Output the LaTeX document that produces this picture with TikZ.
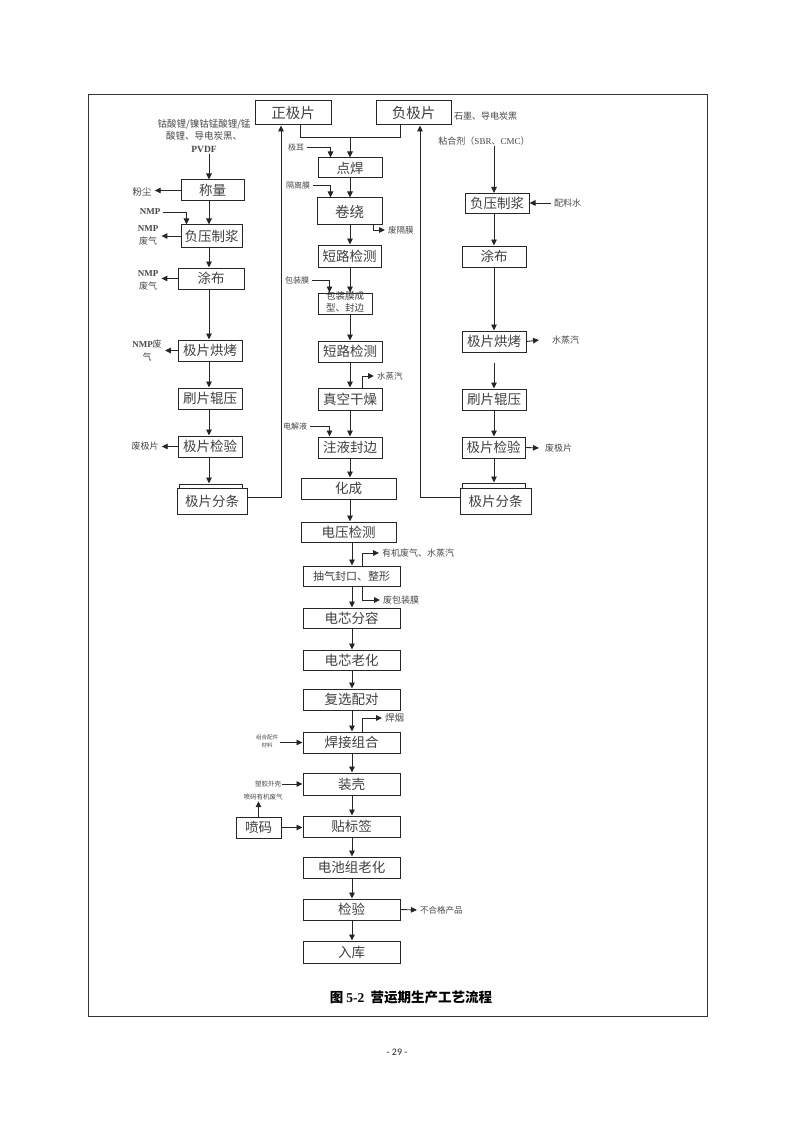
\documentclass[tikz,border=0pt]{standalone}
\usepackage{fontspec}
\setmainfont{Noto Sans CJK SC}
\newfontfamily\tnr{Liberation Serif}
\newfontfamily\pagefont{Carlito}
\usetikzlibrary{arrows.meta,calc}
\newcommand\tb[1]{{\tnr\bfseries #1}}
\newcommand\fsz[2]{\fontsize{#1}{#2}\selectfont}
\begin{document}
\begin{tikzpicture}[x=1pt,y=-1pt,
  box/.style={draw=black!85, line width=1pt, fill=white, inner sep=0pt, text=black!75, font=\fsz{13.5}{15}},
  arr/.style={draw=black!85, line width=0.9pt, -{Triangle[length=6pt,width=5.5pt]}},
  ln/.style={draw=black!85, line width=0.9pt},
  lab/.style={text=black!72, inner xsep=3pt, inner ysep=1pt, font=\fsz{8.5}{11}, align=center},
  frame/.style={draw=black!80, line width=1pt}]
\useasboundingbox (0,0) rectangle (794,1123);
\draw[frame] (88,95) rectangle (707,1016);

% reference x positions of vertical connectors
\coordinate (xL) at (209,0);
\coordinate (xM) at (350,0);
\coordinate (xN) at (352,0);
\coordinate (xR) at (494,0);
\coordinate (jL) at (300,137);
\coordinate (jM) at (350,137);
\coordinate (jR) at (400,137);
\coordinate (rL) at (281,497);
\coordinate (rR) at (420,497);

% ---------- top boxes
\node[box, font=\fsz{14.5}{16}, minimum width=76, minimum height=24] (zjp) at (293,113) {正极片};
\node[box, font=\fsz{14.5}{16}, minimum width=75, minimum height=24] (fjp) at (413.5,113) {负极片};

% ---------- left column
\node[box, minimum width=63, minimum height=21] (L1) at (212.5,190.5) {称量};
\node[box, minimum width=61, minimum height=22] (L2) at (211.5,236) {负压制浆};
\node[box, minimum width=66, minimum height=21] (L3) at (211,278.5) {涂布};
\node[box, minimum width=64, minimum height=21] (L4) at (210,350.5) {极片烘烤};
\node[box, minimum width=64, minimum height=21] (L5) at (210,398.5) {刷片辊压};
\node[box, minimum width=64, minimum height=21] (L6) at (210,446.5) {极片检验};
\node[box, minimum width=63, minimum height=8] (L7b) at (210.5,488) {};
\node[box, minimum width=70, minimum height=26] (L7) at (212,501) {极片分条};

% ---------- middle column
\node[box, minimum width=64, minimum height=20] (M1) at (350,168) {点焊};
\node[box, font=\fsz{14.5}{16}, minimum width=65, minimum height=27] (M2) at (349.5,211.5) {卷绕};
\node[box, minimum width=63, minimum height=22] (M3) at (349.5,256) {短路检测};
\node[box, minimum width=54, minimum height=21] (M4) at (345,303.5) {};
\node[text=black!75, font=\fsz{9.5}{12}, align=center, inner sep=0pt] (M4t) at (345,301.5) {包装膜成\\型、封边};
\node[box, minimum width=64, minimum height=21] (M5) at (350,351.5) {短路检测};
\node[box, minimum width=64, minimum height=22] (M6) at (350,399) {真空干燥};
\node[box, minimum width=64, minimum height=21] (M7) at (350,447.5) {注液封边};
\node[box, minimum width=95, minimum height=21] (M8) at (348.5,488.5) {化成};
\node[box, minimum width=95, minimum height=20] (M9) at (348.5,532) {电压检测};
\node[box, font=\fsz{11}{13}, minimum width=97, minimum height=20] (M10) at (351.5,576) {抽气封口、整形};
\node[box, minimum width=97, minimum height=20] (M11) at (351.5,618) {电芯分容};
\node[box, minimum width=97, minimum height=20] (M12) at (351.5,660) {电芯老化};
\node[box, minimum width=97, minimum height=21] (M13) at (351.5,699.5) {复选配对};
\node[box, minimum width=97, minimum height=21] (M14) at (351.5,742.5) {焊接组合};
\node[box, minimum width=97, minimum height=22] (M15) at (351.5,784) {装壳};
\node[box, minimum width=97, minimum height=21] (M16) at (351.5,826.5) {贴标签};
\node[box, minimum width=97, minimum height=21] (M17) at (351.5,867.5) {电池组老化};
\node[box, minimum width=97, minimum height=21] (M18) at (351.5,909.5) {检验};
\node[box, minimum width=97, minimum height=22] (M19) at (351.5,952) {入库};
\node[box, minimum width=45, minimum height=21] (pm) at (258.5,827.5) {喷码};

% ---------- right column
\node[box, minimum width=64, minimum height=20] (R1) at (497,203.5) {负压制浆};
\node[box, minimum width=64, minimum height=21] (R2) at (494,256.5) {涂布};
\node[box, minimum width=64, minimum height=21] (R3) at (494,341.5) {极片烘烤};
\node[box, minimum width=64, minimum height=21] (R4) at (494,399.5) {刷片辊压};
\node[box, minimum width=63, minimum height=21] (R5) at (493.5,447.5) {极片检验};
\node[box, minimum width=63, minimum height=8] (R6b) at (493.5,487) {};
\node[box, minimum width=71, minimum height=26] (R6) at (495.5,501) {极片分条};

% ---------- labels
\node[lab, font=\fsz{9.5}{12.5}] (pL) at (204,136) {钴酸锂/镍钴锰酸锂/锰\\酸锂、导电炭黑、\\\tb{PVDF}};
\node[lab, font=\fsz{9.5}{11}] (fc) at (142,192) {粉尘};
\node[lab, font=\fsz{9}{11}] (nmp) at (150,212) {\tb{NMP}};
\node[lab, font=\fsz{9}{13}] (n2) at (148,235) {\tb{NMP}\\废气};
\node[lab, font=\fsz{9}{13}] (n3) at (148,280) {\tb{NMP}\\废气};
\node[lab, font=\fsz{9}{13}] (n4) at (147,351) {\tb{NMP}废\\气};
\node[lab, font=\fsz{9}{11}] (n5) at (145,446) {废极片};
\node[lab, font=\fsz{8}{10}] (je) at (296,147) {极耳};
\node[lab, font=\fsz{8}{10}] (glm) at (298,185) {隔离膜};
\node[lab, font=\fsz{8}{10}] (bzm) at (297,280) {包装膜};
\node[lab, font=\fsz{8.5}{10}, anchor=west] (fgm) at (385,230) {废隔膜};
\node[lab, font=\fsz{8.5}{10}, anchor=west] (sz1) at (374,376) {水蒸汽};
\node[lab, font=\fsz{8}{10}] (djy) at (295,426) {电解液};
\node[lab, font=\fsz{9}{10}, anchor=west] (yj) at (379,553) {有机废气、水蒸汽};
\node[lab, font=\fsz{9}{10}, anchor=west] (fbzm) at (380,600) {废包装膜};
\node[lab, font=\fsz{9.5}{10}, anchor=west] (hy) at (382,718) {焊烟};
\node[lab, font=\fsz{5.5}{8}, inner xsep=2pt] (zh) at (267,741) {组合配件\\材料};
\node[lab, font=\fsz{6.5}{8}, inner xsep=1pt] (sj) at (268,784) {塑胶外壳};
\node[lab, font=\fsz{6.5}{8}] (pmq) at (263,797) {喷码有机废气};
\node[lab, font=\fsz{8.5}{10}, anchor=west] (bhg) at (417,910) {不合格产品};
\node[lab, font=\fsz{9}{10}, anchor=west] (smt) at (451,116) {石墨、导电炭黑};
\node[lab, font=\fsz{9}{10}] (nhj) at (484,141) {粘合剂（{\tnr SBR}、{\tnr CMC}）};
\node[lab, font=\fsz{9}{10}, anchor=west] (plS) at (551,203) {配料水};
\node[lab, font=\fsz{9}{10}, anchor=west] (szR) at (549,340) {水蒸汽};
\node[lab, font=\fsz{9}{10}, anchor=west] (fjR) at (542,448) {废极片};

% ---------- caption and page number
\node[font=\fsz{13.5}{15}\bfseries, text=black] (cap) at (411,997) {图 {\tnr\bfseries 5-2}\ \ 营运期生产工艺流程};
\node[font=\pagefont\fsz{10}{12}, text=black!85] (pg) at (397,1052) {- 29 -};

% ---------- connectors: top
\draw[ln] (zjp.south -| jL) -- (jL) -- (jR) -- (fjp.south -| jR);
\draw[arr] (jM) -- (M1.north -| jM);
\draw[arr] (L7.east |- rL) -- (rL) -- (zjp.south -| rL);
\draw[arr] (R6.west |- rR) -- (rR) -- (fjp.south -| rR);

% left column
\draw[arr] (pL.south -| xL) -- (L1.north -| xL);
\draw[arr] (L1.south -| xL) -- (L2.north -| xL);
\draw[arr] (L2.south -| xL) -- (L3.north -| xL);
\draw[arr] (L3.south -| xL) -- (L4.north -| xL);
\draw[arr] (L4.south -| xL) -- (L5.north -| xL);
\draw[arr] (L5.south -| xL) -- (L6.north -| xL);
\draw[arr] (L6.south -| xL) -- (L7b.north -| xL);
\draw[arr] (L1.west) -- (L1.west -| fc.east);
\draw[arr] (nmp.east) -| ($(L2.north west)+(6,0)$);
\draw[arr] (L2.west) -- (L2.west -| n2.east);
\draw[arr] (L3.west) -- (L3.west -| n3.east);
\draw[arr] (L4.west) -- (L4.west -| n4.east);
\draw[arr] (L6.west) -- (L6.west -| n5.east);

% middle column
\draw[arr] (M1.south -| xM) -- (M2.north -| xM);
\draw[arr] (M2.south -| xM) -- (M3.north -| xM);
\draw[arr] (M3.south -| xM) -- (M4.north -| xM);
\draw[arr] (M4.south -| xM) -- (M5.north -| xM);
\draw[arr] (M5.south -| xM) -- (M6.north -| xM);
\draw[arr] (M6.south -| xM) -- (M7.north -| xM);
\draw[arr] (M7.south -| xM) -- (M8.north -| xM);
\draw[arr] (M8.south -| xM) -- (M9.north -| xM);
\draw[arr] (M9.south -| xN) -- (M10.north -| xN);
\draw[arr] (M10.south -| xN) -- (M11.north -| xN);
\draw[arr] (M11.south -| xN) -- (M12.north -| xN);
\draw[arr] (M12.south -| xN) -- (M13.north -| xN);
\draw[arr] (M13.south -| xN) -- (M14.north -| xN);
\draw[arr] (M14.south -| xN) -- (M15.north -| xN);
\draw[arr] (M15.south -| xN) -- (M16.north -| xN);
\draw[arr] (M16.south -| xN) -- (M17.north -| xN);
\draw[arr] (M17.south -| xN) -- (M18.north -| xN);
\draw[arr] (M18.south -| xN) -- (M19.north -| xN);

\draw[arr] (je.east) -| ($(M1.north west)+(13,0)$);
\draw[arr] (glm.east) -| ($(M2.north west)+(14,0)$);
\draw[arr] (bzm.east) -| ($(M4.north west)+(12,0)$);
\draw[arr] ($(M2.south east)+(-9,0)$) |- (fgm.west);
\draw[arr] ($(M6.north east)+(-20,0)$) |- (sz1.west);
\draw[arr] (djy.east) -| ($(M7.north west)+(12,0)$);
\draw[arr] ($(M10.north west)+(60,0)$) |- (yj.west);
\draw[arr] ($(M10.south west)+(60,0)$) |- (fbzm.west);
\draw[arr] ($(M14.north west)+(60,0)$) |- (hy.west);
\draw[arr] (zh.east |- M14.west) -- (M14.west);
\draw[arr] (sj.east |- M15.west) -- (M15.west);
\draw[arr] (pm.north) -- (pm.north |- pmq.south);
\draw[arr] (pm.east) -- (pm.east -| M16.west);
\draw[arr] (M18.east) -- (bhg.west);

% right column
\draw[arr] (nhj.south -| xR) -- (R1.north -| xR);
\draw[arr] (plS.west) -- (plS.west -| R1.east);
\draw[arr] (R1.south -| xR) -- (R2.north -| xR);
\draw[arr] (R2.south -| xR) -- (R3.north -| xR);
\draw[arr] ($(R3.south -| xR)+(0,10)$) -- (R4.north -| xR);
\draw[arr] (R4.south -| xR) -- (R5.north -| xR);
\draw[arr] (R5.south -| xR) -- (R6b.north -| xR);
\draw[arr] (R3.east) -- ($(szR.west)+(-10,0)$);
\draw[arr] (R5.east) -- ($(fjR.west)+(-3,0)$);
\end{tikzpicture}
\end{document}
